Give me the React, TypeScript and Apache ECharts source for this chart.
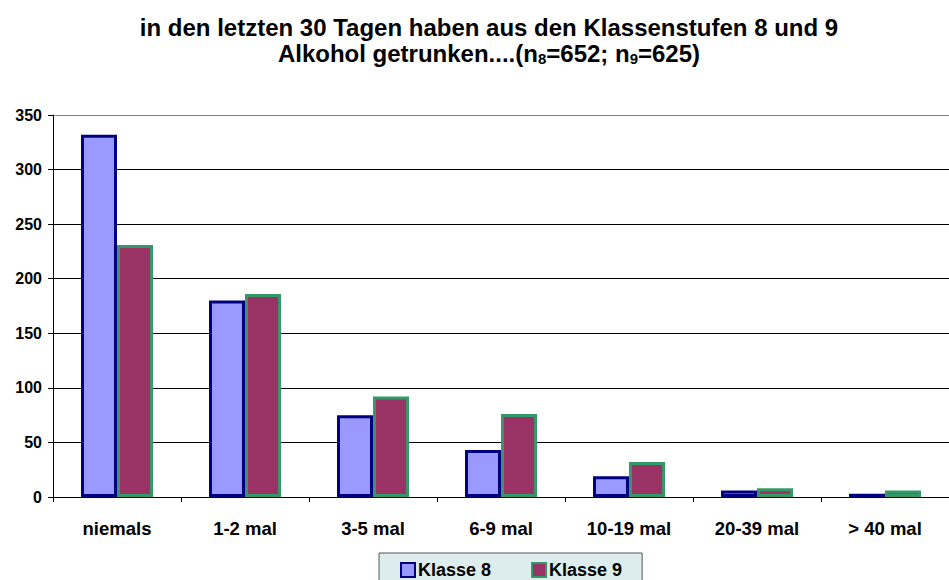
import React, { useEffect, useRef } from "react";
import * as echarts from "echarts";

const categories = ["niemals", "1-2 mal", "3-5 mal", "6-9 mal", "10-19 mal", "20-39 mal", "> 40 mal"];
const klasse8 = [332, 180, 75, 43, 19, 6, 3];
const klasse9 = [231, 186, 92, 76, 32, 8, 6];
const seriesNames = ["Klasse 8", "Klasse 9"];

const FONT = "'Liberation Sans', Arial, sans-serif";

export default function App() {
  const ref = useRef<HTMLDivElement>(null);
  useEffect(() => {
    document.body.style.margin = "0";
    document.body.style.overflow = "hidden";
    const chart = echarts.init(ref.current!, null, { renderer: "svg" });
    chart.setOption({
      animation: false,
      backgroundColor: "#ffffff",
      textStyle: { fontFamily: FONT },
      title: {
        text:
          "{a|in den letzten 30 Tagen haben aus den Klassenstufen 8 und 9}\n" +
          "{a|Alkohol getrunken....(n}{s|8}{a|=652; n}{s|9}{a|=625)}",
        left: 484,
        top: 9,
        textAlign: "center",
        textStyle: {
          rich: {
            a: { fontFamily: FONT, fontSize: 24, fontWeight: "bold", color: "#000", lineHeight: 26 },
            s: { fontFamily: FONT, fontSize: 15, fontWeight: "bold", color: "#000", padding: [10, 0, 0, 0], lineHeight: 15 },
          },
        },
      },
      legend: {
        data: seriesNames,
        left: 379,
        top: 553,
        orient: "horizontal",
        backgroundColor: "#DDEDED",
        borderColor: "#555555",
        borderWidth: 1,
        padding: [8, 20, 12, 21],
        itemGap: 40,
        itemWidth: 14,
        itemHeight: 14,
        icon: "rect",
        textStyle: { fontFamily: FONT, fontSize: 18, fontWeight: "bold", color: "#000", padding: [0, 0, 0, -2] },
      },
      grid: { left: 53, right: -8, top: 115, bottom: 83 },
      xAxis: {
        type: "category",
        data: categories,
        axisLine: { lineStyle: { color: "#000", width: 1 } },
        axisTick: { show: true, length: 5, inside: false, lineStyle: { color: "#000" } },
        axisLabel: { fontFamily: FONT, fontSize: 18.5, fontWeight: "bold", color: "#000", margin: 22 },
      },
      yAxis: {
        type: "value",
        min: 0,
        max: 350,
        interval: 50,
        axisLine: { show: true, lineStyle: { color: "#000", width: 1 } },
        axisTick: { show: true, length: 5, lineStyle: { color: "#000" } },
        axisLabel: { fontFamily: FONT, fontSize: 16, fontWeight: "bold", color: "#000", margin: 11 },
        splitLine: {
          show: true,
          lineStyle: { color: ["#000", "#000", "#000", "#000", "#000", "#000", "#000", "#808080"], width: 1 },
        },
      },
      series: [
        {
          name: seriesNames[0],
          type: "bar",
          data: klasse8,
          barWidth: 36,
          barGap: "0%",
          itemStyle: { color: "#9999FF", borderColor: "#000080", borderWidth: 3 },
        },
        {
          name: seriesNames[1],
          type: "bar",
          data: klasse9,
          barWidth: 36,
          barGap: "0%",
          itemStyle: { color: "#993366", borderColor: "#339966", borderWidth: 3 },
        },
      ],
    });
    return () => chart.dispose();
  }, []);
  return <div ref={ref} style={{ width: 949, height: 580 }} />;
}
